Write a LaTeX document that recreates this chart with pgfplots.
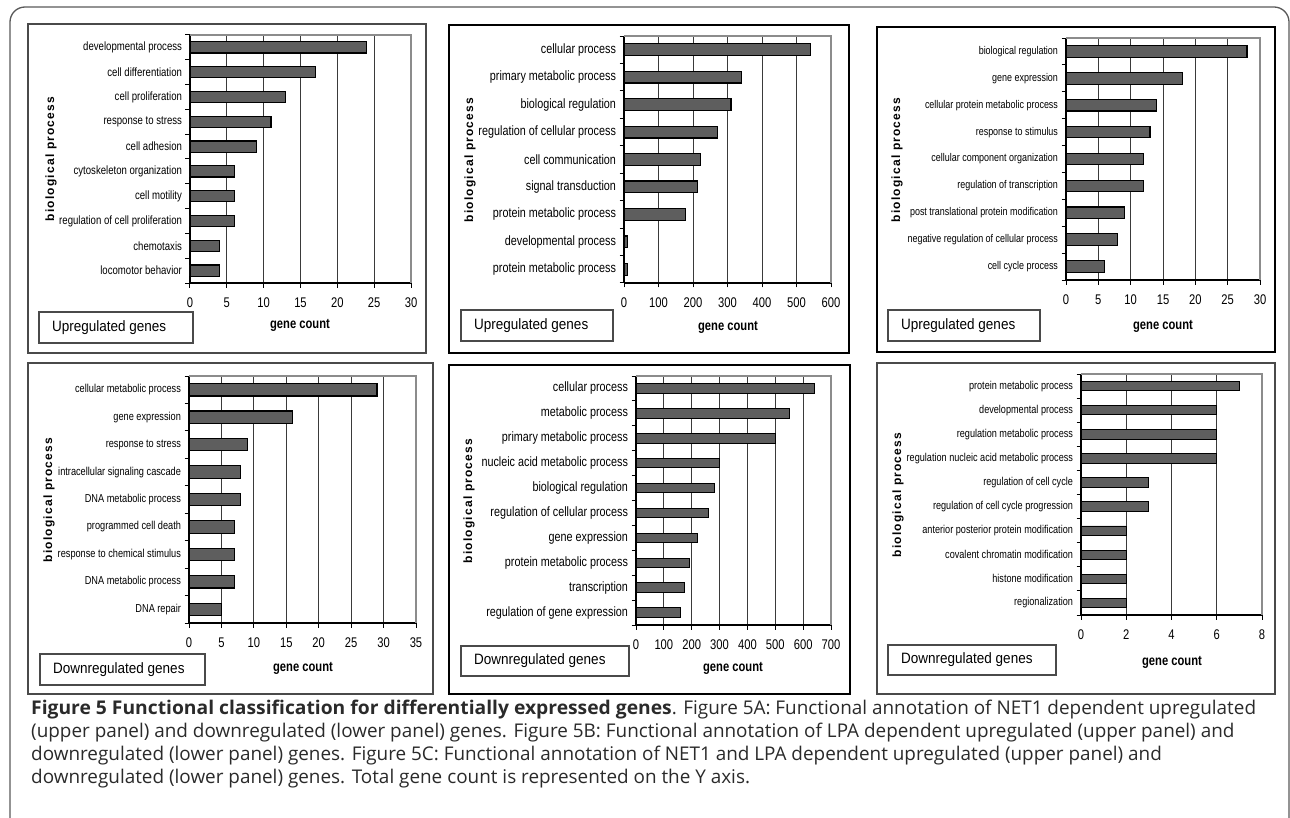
\documentclass[border=0pt]{standalone}
\usepackage{pgfplots}
\pgfplotsset{compat=1.18}
\usepackage{fontspec}
\setmainfont{Liberation Sans}
\newfontfamily\cond[FakeStretch=0.8]{Liberation Sans}
\newfontfamily\boxfont[FakeStretch=0.9]{Liberation Sans}
\newfontfamily\vfont[LetterSpace=10]{Liberation Sans}
\newfontfamily\capfont{Open Sans}
\newfontfamily\capbold[FakeStretch=1.02]{Open Sans}

\definecolor{barfill}{HTML}{5E5E5E}
\definecolor{gridc}{HTML}{3A3A3A}
\definecolor{framec}{HTML}{8C8C8C}
\definecolor{boxc}{HTML}{4A4A4A}
\definecolor{captc}{HTML}{2A2A2A}

\newcommand{\fs}[1]{\fontsize{#1}{#1}\selectfont}

\pgfplotsset{
  bars/.style={fill=barfill, draw=black, line width=1.2pt},
  panel/.style={
    xbar, scale only axis, anchor=south west,
    axis x line*=bottom, axis y line*=left,
    axis line style={black, line width=1.2pt},
    tick align=outside, major tick length=4.5pt,
    tick style={black, line width=1pt},
    xmajorgrids, major grid style={gridc, line width=1pt},
    y tick label as interval,
    /pgf/number format/assume math mode=true,
    xticklabel style={font=\cond\fs{14}, yshift=-7pt},
    xmin=0, ymin=0.5,
    extra description/.code={
      \draw[framec, line width=1.4pt] (axis description cs:0,1) -- (axis description cs:1,1) -- (axis description cs:1,0);
    },
  },
}

\begin{document}
\begin{tikzpicture}
\useasboundingbox (0pt,0pt) rectangle (1290pt,-818pt);

% outer frame
\draw[gray!70!black, line width=1.3pt, rounded corners=15pt]
  (10pt,-830pt) -- (10pt,-7pt) -- (1289pt,-7pt) -- (1289pt,-830pt);

% panel frames
\draw[boxc, line width=1.3pt] (28pt,-24pt) rectangle (426pt,-353pt);
\draw[boxc, line width=1.3pt] (28pt,-363pt) rectangle (433pt,-694pt);
\draw[black, line width=2.5pt] (449pt,-25pt) rectangle (849pt,-353pt);
\draw[black, line width=2.5pt] (449pt,-365pt) rectangle (850pt,-694pt);
\draw[black, line width=2.5pt] (877pt,-27pt) rectangle (1275pt,-352pt);
\draw[boxc, line width=1.3pt] (877pt,-363pt) rectangle (1275pt,-694pt);

% ---------------- A, upregulated
\begin{axis}[panel, at={(190pt,-283pt)}, width=221pt, height=248pt,
  xmax=30, xtick={0,5,10,15,20,25,30},
  ymax=10.5, ytick={0.5,1.5,2.5,3.5,4.5,5.5,6.5,7.5,8.5,9.5,10.5},
  yticklabels={locomotor behavior,chemotaxis,regulation of cell proliferation,cell motility,cytoskeleton organization,cell adhesion,response to stress,cell proliferation,cell differentiation,developmental process},
  yticklabel style={font=\cond\fs{12}}, bar width=0.45]
\addplot[bars] coordinates {(4,1) (4,2) (6,3) (6,4) (6,5) (9,6) (11,7) (13,8) (17,9) (24,10)};
\end{axis}

% ---------------- A, downregulated
\begin{axis}[panel, at={(189pt,-623pt)}, width=227pt, height=247pt,
  xmax=35, xtick={0,5,10,15,20,25,30,35},
  ymax=9.5, ytick={0.5,1.5,2.5,3.5,4.5,5.5,6.5,7.5,8.5,9.5},
  yticklabels={DNA repair,DNA metabolic process,response to chemical stimulus,programmed cell death,DNA metabolic process,intracellular signaling cascade,response to stress,gene expression,cellular metabolic process},
  yticklabel style={font=\cond\fs{11.5}}, bar width=0.45]
\addplot[bars] coordinates {(5,1) (7,2) (7,3) (7,4) (8,5) (8,6) (9,7) (16,8) (29,9)};
\end{axis}

% ---------------- B, upregulated
\begin{axis}[panel, at={(624pt,-283pt)}, width=207pt, height=247pt,
  xmax=600, xtick={0,100,200,300,400,500,600},
  ymax=9.5, ytick={0.5,1.5,2.5,3.5,4.5,5.5,6.5,7.5,8.5,9.5},
  yticklabels={protein metabolic process,developmental process,protein metabolic process,signal transduction,cell communication,regulation of cellular process,biological regulation,primary metabolic process,cellular process},
  yticklabel style={font=\cond\fs{13.5}}, bar width=0.43]
\addplot[bars] coordinates {(10,1) (10,2) (178,3) (212,4) (222,5) (270,6) (310,7) (340,8) (540,9)};
\end{axis}

% ---------------- B, downregulated
\begin{axis}[panel, at={(636pt,-625pt)}, width=195pt, height=249pt,
  xmax=700, xtick={0,100,200,300,400,500,600,700},
  ymax=10.5, ytick={0.5,1.5,2.5,3.5,4.5,5.5,6.5,7.5,8.5,9.5,10.5},
  yticklabels={regulation of gene expression,transcription,protein metabolic process,gene expression,regulation of cellular process,biological regulation,nucleic acid metabolic process,primary metabolic process,metabolic process,cellular process},
  yticklabel style={font=\cond\fs{13.5}}, bar width=0.38]
\addplot[bars, line width=0.9pt] coordinates {(161,1) (173,2) (192,3) (221,4) (261,5) (282,6) (300,7) (500,8) (550,9) (640,10)};
\end{axis}

% ---------------- C, upregulated
\begin{axis}[panel, at={(1066pt,-280pt)}, width=194pt, height=242pt,
  xmax=30, xtick={0,5,10,15,20,25,30},
  ymax=9.5, ytick={0.5,1.5,2.5,3.5,4.5,5.5,6.5,7.5,8.5,9.5},
  yticklabels={cell cycle process,negative regulation of cellular process,post translational protein modification,regulation of transcription,cellular component organization,response to stimulus,cellular protein metabolic process,gene expression,biological regulation},
  yticklabel style={font=\cond\fs{11.2}}, bar width=0.43]
\addplot[bars] coordinates {(6,1) (8,2) (9,3) (12,4) (12,5) (13,6) (14,7) (18,8) (28,9)};
\end{axis}

% ---------------- C, downregulated
\begin{axis}[panel, at={(1081pt,-615pt)}, width=181pt, height=241pt,
  xmax=8, xtick={0,2,4,6,8},
  ymax=10.5, ytick={0.5,1.5,2.5,3.5,4.5,5.5,6.5,7.5,8.5,9.5,10.5},
  yticklabels={regionalization,histone modification,covalent chromatin modification,anterior posterior protein modification,regulation of cell cycle progression,regulation of cell cycle,regulation nucleic acid metabolic process,regulation metabolic process,developmental process,protein metabolic process},
  yticklabel style={font=\cond\fs{11.4}}, bar width=0.39]
\addplot[bars, line width=0.9pt] coordinates {(2,1) (2,2) (2,3) (2,4) (3,5) (3,6) (6,7) (6,8) (6,9) (7,10)};
\end{axis}

% axis titles
\foreach \x/\y in {51/159, 49/500, 470/160, 469/501, 897/160, 898/495}
  \node[rotate=90, font=\vfont\bfseries\fs{12}] at (\x pt,-\y pt) {biological process};
\foreach \x/\y in {300/325, 303/668, 728/327, 733/668, 1163/326, 1172/662}
  \node[font=\cond\bfseries\fs{14}] at (\x pt,-\y pt) {gene count};

% legend boxes
\draw[boxc, line width=1.2pt] (39pt,-312pt) rectangle (193pt,-343pt);
\node[anchor=west, inner sep=0pt, font=\boxfont\fs{15}] at (52pt,-327.5pt) {Upregulated genes};
\draw[boxc, line width=1.2pt] (40pt,-654pt) rectangle (205pt,-685pt);
\node[anchor=west, inner sep=0pt, font=\boxfont\fs{15}] at (53pt,-669.5pt) {Downregulated genes};
\draw[boxc, line width=1.2pt] (461pt,-310pt) rectangle (613pt,-341pt);
\node[anchor=west, inner sep=0pt, font=\boxfont\fs{15}] at (474pt,-325.5pt) {Upregulated genes};
\draw[boxc, line width=1.2pt] (461pt,-646pt) rectangle (629pt,-676pt);
\node[anchor=west, inner sep=0pt, font=\boxfont\fs{15}] at (474pt,-661pt) {Downregulated genes};
\draw[boxc, line width=1.2pt] (888pt,-310pt) rectangle (1040pt,-341pt);
\node[anchor=west, inner sep=0pt, font=\boxfont\fs{15}] at (901pt,-325.5pt) {Upregulated genes};
\draw[boxc, line width=1.2pt] (888pt,-645pt) rectangle (1056pt,-675pt);
\node[anchor=west, inner sep=0pt, font=\boxfont\fs{15}] at (901pt,-660pt) {Downregulated genes};

% caption
\begin{scope}[every node/.style={anchor=base west, inner sep=0pt, text=captc, font=\capfont\fs{18.9}}]
\node at (31pt,-714pt) {{\capbold\bfseries Figure 5 Functional classification for differentially expressed genes}. Figure 5A: Functional annotation of NET1 dependent upregulated};
\node at (31pt,-737pt) {(upper panel) and downregulated (lower panel) genes. Figure 5B: Functional annotation of LPA dependent upregulated (upper panel) and};
\node at (31pt,-760pt) {downregulated (lower panel) genes. Figure 5C: Functional annotation of NET1 and LPA dependent upregulated (upper panel) and};
\node at (31pt,-783pt) {downregulated (lower panel) genes. Total gene count is represented on the Y axis.};
\end{scope}
\end{tikzpicture}
\end{document}
